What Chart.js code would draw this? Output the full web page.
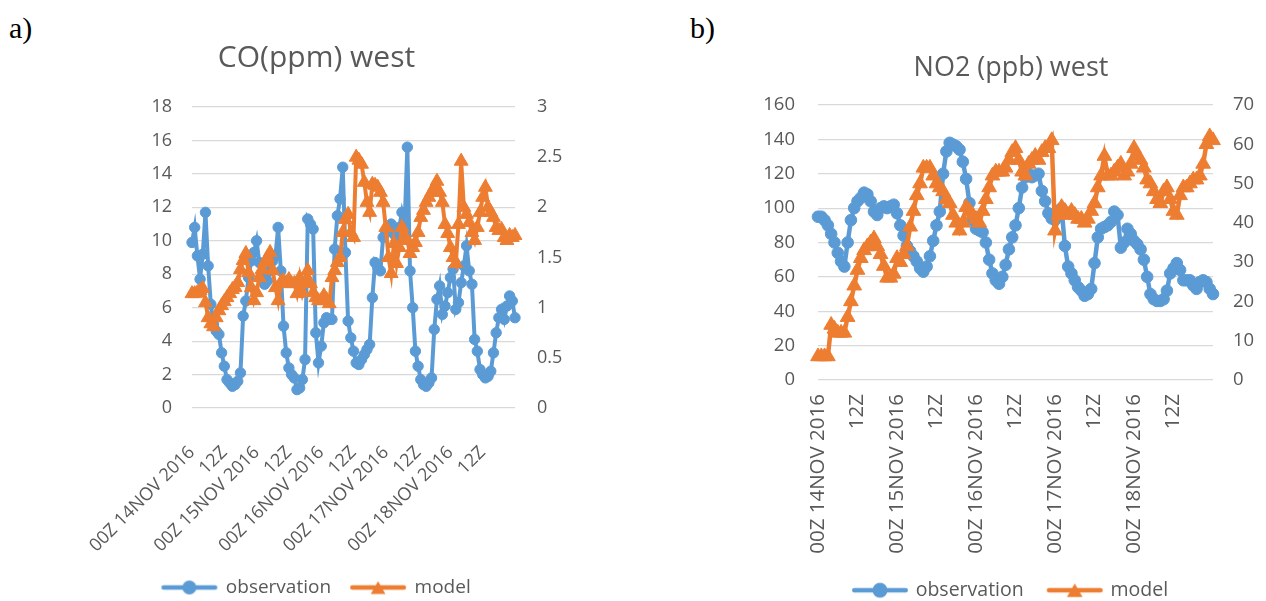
<!DOCTYPE html>
<html><head><meta charset="utf-8">
<script src="https://cdn.jsdelivr.net/npm/chart.js@4.4.0/dist/chart.umd.min.js"></script>
<style>
html,body{margin:0;padding:0;background:#fff;width:1266px;height:601px;overflow:hidden;position:relative;}
.panel{position:absolute;top:0;}
#wrapA{left:0;width:633px;height:607px;}
#wrapB{left:756px;width:510px;height:610px;}
.tag{position:absolute;font-family:"Liberation Serif","DejaVu Serif",serif;font-size:30px;color:#000;line-height:1;}
</style></head>
<body>
<div class="tag" style="left:9px;top:13px">a)</div>
<div class="tag" style="left:690px;top:13px">b)</div>
<div class="panel" id="wrapA"><canvas id="cA" width="633" height="607"></canvas></div>
<div class="panel" id="wrapB"><canvas id="cB" width="510" height="610"></canvas></div>
<script>
// ---- categories (hourly, 00Z 14NOV 2016 .. 00Z 19NOV 2016) ----
const DAY_NAMES = ['14NOV 2016','15NOV 2016','16NOV 2016','17NOV 2016','18NOV 2016','19NOV 2016'];
const CATEGORIES = [];
for (let i = 0; i < 121; i++) {
  const d = Math.floor(i / 24), h = i % 24;
  CATEGORIES.push((h < 10 ? '0' : '') + h + 'Z ' + DAY_NAMES[d]);
}
const TICK_LABELS = ['00Z 14NOV 2016','12Z','00Z 15NOV 2016','12Z','00Z 16NOV 2016','12Z','00Z 17NOV 2016','12Z','00Z 18NOV 2016','12Z'];

// ---- panel a: CO (ppm) west ----
const CO_OBS = [9.9,10.8,9.1,7.7,9.2,11.7,8.5,6.2,5.0,4.6,
  4.4,3.3,2.5,1.7,1.5,1.3,1.4,1.6,2.1,5.5,
  6.4,7.8,8.8,9.3,10.0,8.7,8.0,7.4,7.6,8.2,
  8.8,9.1,10.8,8.2,4.9,3.3,2.4,2.0,1.8,1.1,
  1.2,1.7,2.9,11.3,11.0,10.7,4.5,2.7,3.7,5.1,
  5.4,5.3,5.3,9.5,11.5,12.5,14.4,9.3,5.2,4.2,
  3.4,2.7,2.6,2.9,3.2,3.5,3.8,6.6,8.7,8.4,
  8.2,10.2,10.5,10.8,11.0,10.4,10.0,10.8,11.7,11.0,
  15.6,8.2,6.0,3.4,2.5,1.7,1.4,1.3,1.5,1.8,
  4.7,6.5,7.3,5.6,6.1,6.9,7.8,8.3,5.9,6.3,
  7.5,8.5,9.7,8.2,7.4,4.1,3.4,2.3,2.0,1.8,
  1.9,2.2,3.3,4.5,5.4,5.9,5.3,6.1,6.7,6.4,
  5.4];
const CO_MODEL = [1.14,1.14,1.15,1.17,1.19,1.05,0.9,0.84,0.81,0.9,
  0.97,1.02,1.06,1.1,1.14,1.18,1.2,1.25,1.38,1.47,
  1.54,1.35,1.2,1.07,1.15,1.3,1.38,1.45,1.5,1.55,
  1.37,1.2,1.07,1.25,1.27,1.24,1.28,1.24,1.24,1.14,
  1.3,1.15,1.25,1.37,1.24,1.15,1.1,1.07,1.07,1.12,
  1.08,1.04,1.3,1.37,1.45,1.5,1.75,1.88,1.93,1.75,
  1.7,2.5,2.47,2.43,2.25,2.05,1.95,2.23,2.22,2.2,
  2.15,2.05,1.8,1.5,1.34,1.64,1.44,1.6,1.8,1.7,
  1.67,1.54,1.6,1.65,1.75,1.9,1.97,2.05,2.1,2.15,
  2.2,2.26,2.15,2.05,1.83,1.74,1.6,1.5,1.44,1.83,
  2.46,2.0,1.93,1.85,1.75,1.67,1.8,1.95,2.1,2.2,
  2.0,1.95,1.9,1.8,1.77,1.78,1.7,1.67,1.72,1.7,
  1.72];

// ---- panel b: NO2 (ppb) west ----
const NO2_OBS = [95,95,93,90,85,80,74,69,66,80,
  93,100,104,106,109,108,104,98,96,100,
  101,100,101,102,97,90,84,78,75,72,
  69,65,63,66,72,81,90,98,120,133,
  138,137,136,134,127,117,103,93,88,87,
  86,80,70,62,58,56,60,67,76,83,
  90,100,112,118,120,118,119,120,110,104,
  97,94,93,96,100,78,66,62,58,54,
  52,49,50,53,68,83,88,89,90,92,
  98,96,77,80,88,85,81,79,76,70,
  60,50,47,46,46,47,52,62,65,68,
  64,58,58,58,55,53,57,58,57,53,
  50];
const NO2_MODEL = [6,6,6,6,14,13,12,12,12,16,
  20,24,28,31,33,34,35,36,34,32,
  29,26,26,27,31,30,32,34,39,43,
  47,50,54,54,54,52,50,49,48,46,
  45,42,40,38,40,44,43,42,41,40,
  43,46,49,52,53,53,53,54,56,58,
  59,56,53,52,55,56,57,56,58,59,
  59,61,38,42,44,43,42,43,42,41,
  41,40,41,43,45,49,52,57,52,52,
  53,54,55,52,53,55,59,57,56,54,
  51,50,48,46,45,48,49,46,43,42,
  47,49,49,50,51,51,52,55,60,62,
  61];

const CO_LEFT = {min: 0, max: 18, step: 2};
const CO_RIGHT = {min: 0, max: 3, step: 0.5};
const NO2_LEFT = {min: 0, max: 160, step: 20};
const NO2_RIGHT = {min: 0, max: 70, step: 10};

const BLUE = '#5B9BD5', ORANGE = '#ED7D31', TXT = '#595959', GRID = '#d9d9d9';
const FONT = '"Open Sans", "Liberation Sans", sans-serif';

function legendIcon(color, shape, w, h, lw, r) {
  const c = document.createElement('canvas');
  c.width = w; c.height = h;
  const g = c.getContext('2d');
  g.strokeStyle = color; g.lineWidth = lw; g.lineCap = 'round';
  g.beginPath(); g.moveTo(lw / 2 + 1, h / 2); g.lineTo(w - lw / 2 - 1, h / 2); g.stroke();
  g.fillStyle = color;
  g.beginPath();
  if (shape === 'circle') {
    g.arc(w / 2, h / 2, r, 0, Math.PI * 2);
  } else {
    const cx = w / 2, cy = h / 2 + r * 0.25;
    for (let k = 0; k < 3; k++) {
      const a = k * 2 * Math.PI / 3;
      const px = cx + Math.sin(a) * r, py = cy - Math.cos(a) * r;
      if (k === 0) g.moveTo(px, py); else g.lineTo(px, py);
    }
    g.closePath();
  }
  g.fill();
  return c;
}

function xTick(v, i) {
  return (i % 12 === 0 && i / 12 < TICK_LABELS.length) ? TICK_LABELS[i / 12] : '';
}

function makeChart(id, cfg) {
  const icons = [
    legendIcon(BLUE, 'circle', cfg.iconW, 18, 4.5, cfg.legR),
    legendIcon(ORANGE, 'triangle', cfg.iconW, 20, 4.5, cfg.legT)
  ];
  return new Chart(document.getElementById(id), {
    type: 'line',
    data: {
      labels: CATEGORIES,
      datasets: [
        {label: 'observation', data: cfg.obs, yAxisID: 'y', borderColor: BLUE, backgroundColor: BLUE,
         borderWidth: cfg.lw, pointStyle: 'circle', pointRadius: cfg.cr, pointBorderWidth: 1,
         pointBackgroundColor: BLUE, pointBorderColor: BLUE, tension: 0, order: 1, clip: false},
        {label: 'model', data: cfg.model, yAxisID: 'y1', borderColor: ORANGE, backgroundColor: ORANGE,
         borderWidth: cfg.lw, pointStyle: 'triangle', pointRadius: cfg.tr, pointBorderWidth: 1,
         pointBackgroundColor: ORANGE, pointBorderColor: ORANGE, tension: 0, order: 0, clip: false}
      ]
    },
    options: {
      responsive: false, animation: false, devicePixelRatio: 1,
      layout: {padding: 0},
      plugins: {
        title: {display: true, text: cfg.title, color: TXT,
                font: {family: FONT, size: cfg.titleSize, weight: 'normal', lineHeight: 1.2},
                padding: {top: cfg.titleTop, bottom: cfg.titleBottom}},
        legend: {position: 'bottom',
          labels: {usePointStyle: true, pointStyleWidth: cfg.boxW, padding: cfg.legPad, color: TXT,
                   font: {family: FONT, size: cfg.legSize},
                   generateLabels: (chart) => chart.data.datasets.map((ds, i) => ({
                     text: ds.label, pointStyle: icons[i], fillStyle: ds.borderColor, strokeStyle: ds.borderColor,
                     lineWidth: 0, hidden: false, datasetIndex: i, fontColor: TXT}))}},
        tooltip: {enabled: false}
      },
      scales: {
        x: {type: 'category', offset: false,
            grid: {display: false}, border: {display: false},
            ticks: {autoSkip: false, maxRotation: cfg.rot, minRotation: cfg.rot, padding: cfg.xPad,
                    color: TXT, font: {family: FONT, size: cfg.xSize}, callback: xTick},
            afterFit: (s) => { s.height = cfg.xH; }},
        y: {position: 'left', min: cfg.left.min, max: cfg.left.max,
            grid: {color: GRID, lineWidth: 1.2, drawTicks: false}, border: {display: false},
            ticks: {stepSize: cfg.left.step, padding: cfg.yPad, color: TXT, font: {family: FONT, size: cfg.ySize},
                    callback: (v) => String(v)},
            afterFit: (s) => { s.width = cfg.yW; }},
        y1: {position: 'right', min: cfg.right.min, max: cfg.right.max,
            grid: {display: false, drawTicks: false}, border: {display: false},
            ticks: {stepSize: cfg.right.step, padding: cfg.y1Pad, color: TXT, font: {family: FONT, size: cfg.ySize},
                    callback: (v) => String(v)},
            afterFit: (s) => { s.width = cfg.y1W; }}
      }
    }
  });
}

makeChart('cA', {
  obs: CO_OBS, model: CO_MODEL, title: 'CO(ppm) west', titleSize: 30, titleTop: 40, titleBottom: 31,
  left: CO_LEFT, right: CO_RIGHT, yW: 192, y1W: 118, yPad: 20, y1Pad: 22, ySize: 18,
  xH: 150, rot: 45, xPad: 26, xSize: 18,
  lw: 4, cr: 5.2, tr: 8, legSize: 19, legPad: 20, boxW: 54, iconW: 58, legR: 7, legT: 8.5
});
makeChart('cB', {
  obs: NO2_OBS, model: NO2_MODEL, title: 'NO2 (ppb) west', titleSize: 27, titleTop: 51.8, titleBottom: 20.8,
  left: NO2_LEFT, right: NO2_RIGHT, yW: 62, y1W: 53, yPad: 23, y1Pad: 20, ySize: 18.5,
  xH: 175.5, rot: 90, xPad: 6, xSize: 20.5,
  lw: 4.5, cr: 5.8, tr: 8.5, legSize: 19.5, legPad: 25, boxW: 52, iconW: 58, legR: 7.5, legT: 9
});
</script>
</body></html>
